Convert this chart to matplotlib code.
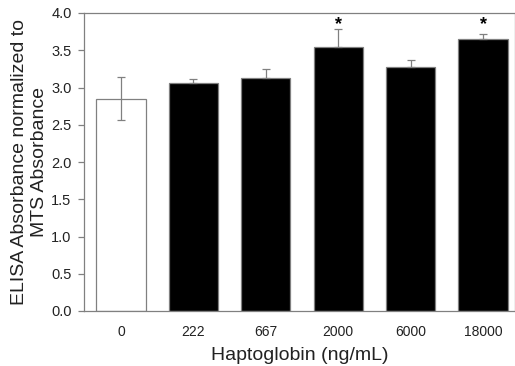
import matplotlib
matplotlib.use("Agg")
import matplotlib.pyplot as plt
import numpy as np

plt.rcParams['font.family'] = ['Liberation Sans', 'DejaVu Sans']

categories = ["0", "222", "667", "2000", "6000", "18000"]
means = [2.85, 3.06, 3.13, 3.54, 3.27, 3.65]
errors = [0.29, 0.05, 0.12, 0.24, 0.10, 0.07]
significant = [False, False, False, True, False, True]

fig = plt.figure(figsize=(5.15, 3.66), dpi=100)
ax = fig.add_axes([84 / 515, 1 - 311 / 366, (515 - 84) / 515, (311 - 13) / 366])

x = np.arange(len(categories))
colors = ["white"] + ["black"] * (len(categories) - 1)
ax.bar(x, means, width=0.68, color=colors, edgecolor="#808080", linewidth=0.9, zorder=2)

# control bar shows both directions; treated bars only the upper whisker
lower = [errors[0]] + [0] * (len(errors) - 1)
ax.errorbar(x, means, yerr=[lower, errors], fmt="none", ecolor="#808080",
            elinewidth=0.9, capsize=3, capthick=0.9, zorder=3)

for xi, s in zip(x, significant):
    if s:
        ax.text(xi, 3.84, "*", ha="center", va="center", fontsize=13, fontweight="bold")

ax.set_xlim(-0.51, 5.44)
ax.set_ylim(0, 4.0)
yt = np.arange(0, 4.01, 0.5)
ax.set_yticks(yt)
ax.set_yticklabels([f"{v:.1f}" for v in yt])
ax.set_xticks(x)
ax.set_xticklabels(categories)
ax.tick_params(axis="x", length=0, pad=10, labelsize=10, labelcolor="#222222")
ax.tick_params(axis="y", direction="out", length=4, width=0.9, color="#808080",
               labelsize=10.5, labelcolor="#222222", pad=5)

for side in ["left", "top", "bottom", "right"]:
    ax.spines[side].set_color("#808080")
    ax.spines[side].set_linewidth(0.9)

ax.set_xlabel("Haptoglobin (ng/mL)", fontsize=14, labelpad=6, color="#222222")
ax.set_ylabel("ELISA Absorbance normalized to\nMTS Absorbance", fontsize=14,
              labelpad=2, color="#222222", linespacing=1.25)

fig.savefig("out.png", dpi=100)
